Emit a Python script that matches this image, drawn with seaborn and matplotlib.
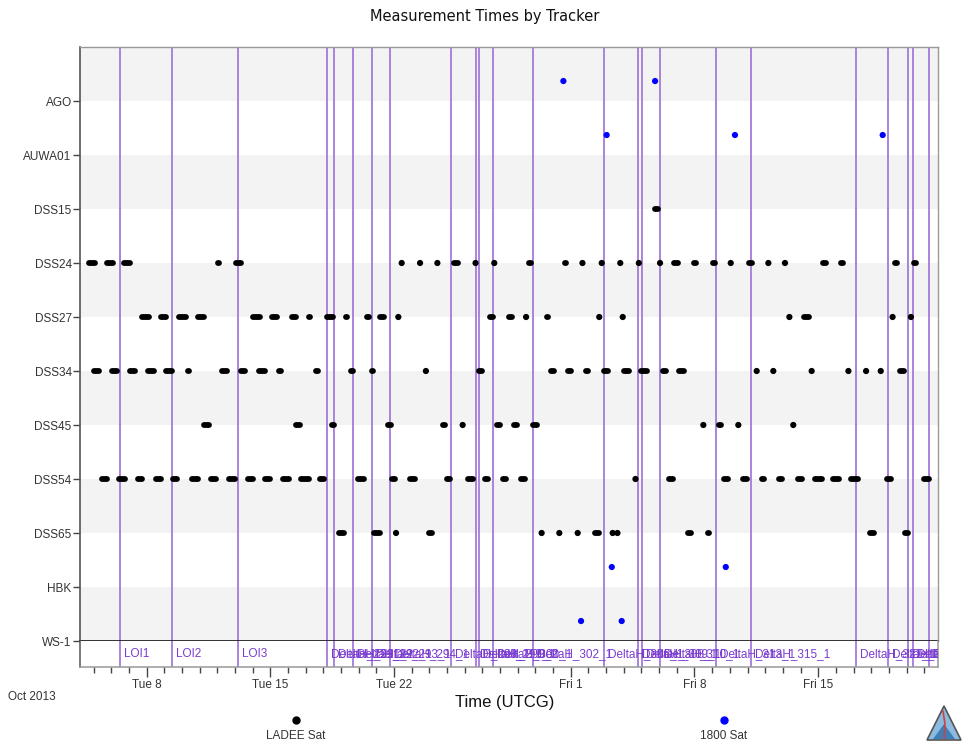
import numpy as np
import pandas as pd
import matplotlib
matplotlib.use("Agg")
import matplotlib.pyplot as plt
import matplotlib.dates as mdates
import matplotlib.ticker as mticker
import matplotlib.transforms as mtransforms
from matplotlib.patches import Polygon
import seaborn as sns

EPOCH = pd.Timestamp("2013-10-01 00:00")

# Tracker rows, bottom to top
trackers = ["WS-1", "HBK", "DSS65", "DSS54", "DSS45", "DSS34",
            "DSS27", "DSS24", "DSS15", "AUWA01", "AGO"]

# LADEE Sat measurement spans, days after 2013-10-01 00:00 UTCG (start, end)
ladee_dss15 = [(35.78, 35.95)]
ladee_dss24 = [(3.76, 4.05), (4.73, 5.07), (5.69, 6.08), (11.01, 11.12), (12.03, 12.31),
               (21.43, 21.43), (22.47, 22.47), (23.45, 23.45), (24.40, 24.59), (25.61, 25.61),
               (26.67, 26.67), (28.65, 28.74), (30.69, 30.72), (31.66, 31.66), (32.75, 32.75),
               (33.80, 33.80), (34.85, 34.85), (36.05, 36.05), (36.85, 37.08), (37.98, 38.08),
               (39.06, 39.15), (40.05, 40.05), (41.10, 41.28), (42.18, 42.18), (43.12, 43.12),
               (45.30, 45.43), (46.28, 46.38), (49.36, 49.45), (50.44, 50.53)]
ladee_dss27 = [(6.76, 7.14), (7.80, 8.08), (8.84, 9.21), (9.88, 10.25), (12.99, 13.42),
               (14.08, 14.36), (15.21, 15.44), (16.16, 16.23), (17.19, 17.52), (18.27, 18.32),
               (19.44, 19.59), (20.23, 20.44), (21.24, 21.24), (26.42, 26.57), (27.48, 27.65),
               (28.47, 28.47), (29.68, 29.72), (32.61, 32.61), (33.94, 33.94), (43.37, 43.37),
               (44.21, 44.49), (49.21, 49.21), (50.25, 50.25)]
ladee_dss34 = [(4.03, 4.31), (5.03, 5.31), (6.04, 6.33), (7.10, 7.39), (8.08, 8.46),
               (9.31, 9.41), (11.25, 11.53), (12.33, 12.55), (13.37, 13.68), (14.46, 14.59),
               (16.57, 16.67), (18.55, 18.65), (19.74, 19.78), (22.80, 22.80), (25.82, 26.00),
               (29.87, 30.06), (30.87, 31.00), (31.85, 31.99), (32.89, 33.08), (34.02, 34.31),
               (34.96, 35.34), (36.19, 36.38), (37.14, 37.38), (41.52, 41.52), (42.46, 42.46),
               (44.63, 44.63), (46.71, 46.71), (47.71, 47.71), (48.54, 48.54), (49.62, 49.83)]
ladee_dss45 = [(10.25, 10.54), (15.44, 15.69), (17.48, 17.61), (20.68, 20.82), (21.76, 21.80),
               (23.74, 23.89), (24.88, 24.88), (26.85, 27.01), (27.80, 27.98), (28.87, 29.08),
               (38.50, 38.50), (39.36, 39.49), (40.48, 40.48), (43.59, 43.59), (50.80, 50.84)]
ladee_dss54 = [(4.46, 4.74), (5.44, 5.76), (6.48, 6.76), (7.52, 7.80), (8.50, 8.74),
               (9.59, 9.92), (10.63, 10.91), (11.67, 11.99), (12.76, 13.04), (13.71, 13.99),
               (14.74, 15.06), (15.72, 16.20), (16.80, 17.05), (18.93, 19.27), (20.91, 21.04),
               (21.89, 22.20), (23.97, 24.15), (25.21, 25.44), (26.16, 26.29), (27.18, 27.36),
               (28.17, 28.40), (34.66, 34.66), (36.57, 36.76), (39.68, 39.87), (40.72, 40.96),
               (41.81, 41.95), (42.80, 42.98), (43.83, 44.11), (44.83, 45.19), (45.81, 46.19),
               (46.85, 47.23), (48.87, 49.11), (51.00, 51.28)]
ladee_dss65 = [(17.86, 18.14), (19.84, 20.18), (21.11, 21.11), (22.95, 23.12), (29.35, 29.35),
               (30.35, 30.35), (31.39, 31.39), (32.38, 32.61), (33.37, 33.37), (33.64, 33.64),
               (37.61, 37.79), (38.74, 38.83), (47.92, 48.13), (49.93, 50.10)]

# 1800 Sat single measurements, days after epoch
sat1800_ago = [30.58, 35.77]
sat1800_auwa01 = [33.03, 40.29, 48.65]
sat1800_hbk = [33.32, 39.77]
sat1800_ws1 = [31.58, 33.88]

# Maneuver events, days after epoch
event_days = [5.49, 8.43, 12.17, 17.20, 17.60, 18.68, 19.75, 20.77, 24.22, 25.64, 25.81,
              26.60, 28.86, 32.88, 34.80, 35.03, 36.05, 39.22, 41.20, 47.14, 48.95, 50.08,
              50.37, 51.27]
event_names = ["LOI1", "LOI2", "LOI3", "DeltaH_291_1", "DeltaH_291_2", "DeltaH_292_1",
               "DeltaH_293_1", "DeltaH_294_1", "DeltaH_298_1", "DeltaH_299_1", "DeltaH_299_2",
               "DeltaH_300_1", "DeltaH_302_1", "DeltaH_306_1", "DeltaH_308_1", "DeltaH_309_1",
               "DeltaH_310_1", "DeltaH_313_1", "DeltaH_315_1", "DeltaH_321_1", "DeltaH_322_1",
               "DeltaH_324_1", "DeltaH_324_2", "DeltaH_325_1"]

view_start, view_end = 3.226, 51.78

LADEE_OFFSET = 0.0
SAT1800_OFFSET = 0.37


def to_time(days):
    return EPOCH + pd.to_timedelta(np.asarray(days, dtype=float), unit="D")


ladee_passes = {"DSS15": ladee_dss15, "DSS24": ladee_dss24, "DSS27": ladee_dss27,
                "DSS34": ladee_dss34, "DSS45": ladee_dss45, "DSS54": ladee_dss54,
                "DSS65": ladee_dss65}
sat1800_points = {"AGO": sat1800_ago, "AUWA01": sat1800_auwa01,
                  "HBK": sat1800_hbk, "WS-1": sat1800_ws1}

seg_rows, pt_rows = [], []
seg_id = 0
for trk, passes in ladee_passes.items():
    lvl = trackers.index(trk) + LADEE_OFFSET
    for t0, t1 in passes:
        if t1 > t0:
            seg_rows.append((t0, lvl, seg_id))
            seg_rows.append((t1, lvl, seg_id))
            seg_id += 1
        else:
            pt_rows.append((t0, lvl, "LADEE Sat"))
for trk, times in sat1800_points.items():
    lvl = trackers.index(trk) + SAT1800_OFFSET
    for t in times:
        pt_rows.append((t, lvl, "1800 Sat"))

seg_df = pd.DataFrame(seg_rows, columns=["day", "level", "seg"])
seg_df["time"] = to_time(seg_df["day"])
pt_df = pd.DataFrame(pt_rows, columns=["day", "level", "object"])
pt_df["time"] = to_time(pt_df["day"])

sns.set_theme(style="white")
plt.rcParams["font.family"] = ["Liberation Sans", "DejaVu Sans"]

W, H = 965, 745
fig = plt.figure(figsize=(W / 100, H / 100), dpi=100)


def frac(x0, y0, x1, y1):
    return [x0 / W, 1 - y1 / H, (x1 - x0) / W, (y1 - y0) / H]


ax = fig.add_axes(frac(80, 47, 938, 641))
strip = fig.add_axes(frac(80, 641, 938, 667), sharex=ax)

line_color = "#a57bdc"
label_color = "#7a3ccf"

# alternating row bands
for k in range(0, len(trackers), 2):
    ax.axhspan(k, k + 1, color="#f3f3f3", lw=0, zorder=0)

for d in event_days:
    t = to_time([d])[0]
    ax.axvline(t, color=line_color, lw=1.3, zorder=1)
    strip.axvline(t, color=line_color, lw=1.3, zorder=1)

sns.lineplot(data=seg_df, x="time", y="level", units="seg", estimator=None, sort=False,
             color="black", lw=4.2, solid_capstyle="round", legend=False, ax=ax, zorder=3)
sns.scatterplot(data=pt_df, x="time", y="level", hue="object",
                palette={"LADEE Sat": "black", "1800 Sat": "#0000ff"},
                s=20, linewidth=0, legend=False, ax=ax, zorder=4)

ax.set_xlim(to_time([view_start])[0], to_time([view_end])[0])
ax.set_ylim(0, len(trackers))
ax.set_yticks(range(len(trackers)))
ax.set_yticklabels(trackers)
ax.set_xlabel("")
ax.set_ylabel("")
ax.tick_params(axis="x", which="both", bottom=False, labelbottom=False)
ax.tick_params(axis="y", left=True, length=5, width=1, color="#444",
               labelsize=8.5, labelcolor="#333", pad=1)
for side, col, lw in [("left", "#555", 1.2), ("top", "#999", 1.0),
                      ("right", "#999", 1.0), ("bottom", "#222", 1.3)]:
    ax.spines[side].set_color(col)
    ax.spines[side].set_linewidth(lw)

strip.set_ylim(0, 1)
label_tf = mtransforms.offset_copy(strip.transData, fig=fig, x=3, y=0, units="points")
for d, name in zip(event_days, event_names):
    txt = strip.text(mdates.date2num(to_time([d])[0]), 0.5, name, transform=label_tf,
                     ha="left", va="center", fontsize=8.5, color=label_color)
    txt.set_clip_box(strip.bbox)
    txt.set_clip_on(True)

strip.set_yticks([])
strip.set_facecolor("white")
strip.spines["top"].set_visible(False)
for side, col in [("left", "#555"), ("right", "#999"), ("bottom", "#999")]:
    strip.spines[side].set_color(col)
    strip.spines[side].set_linewidth(1.1)

strip.xaxis.set_major_locator(mdates.DayLocator(bymonthday=[1, 8, 15, 22]))
strip.xaxis.set_minor_locator(mdates.DayLocator())


def day_label(v, pos):
    dt = mdates.num2date(v)
    return f"{dt:%a} {dt.day}"


strip.xaxis.set_major_formatter(mticker.FuncFormatter(day_label))
strip.tick_params(axis="x", which="major", bottom=True, length=7, width=1, color="#444",
                  labelsize=8.5, labelcolor="#333", pad=2, direction="out")
strip.tick_params(axis="x", which="minor", bottom=True, length=4, width=1, color="#444",
                  direction="out")
strip.set_xlabel("")

fig.text(485 / W, 1 - 17 / H, "Measurement Times by Tracker", ha="center", va="center",
         fontsize=10.5, color="#111", family=["DejaVu Sans"])
fig.text(505 / W, 1 - 703 / H, "Time (UTCG)", ha="center", va="center",
         fontsize=12, color="#111")
fig.text(8 / W, 1 - 697 / H, "Oct 2013", ha="left", va="center", fontsize=8.5, color="#333")

# legend and emblem in pixel space
over = fig.add_axes([0, 0, 1, 1], zorder=-1)
over.set_xlim(0, W)
over.set_ylim(H, 0)
over.axis("off")
for x, col, name in [(296, "black", "LADEE Sat"), (724, "#0000ff", "1800 Sat")]:
    over.plot([x], [720], marker="o", ms=5, color=col, mec=col)
    over.text(x, 736, name, ha="center", va="center", fontsize=8.5, color="#333")

over.add_patch(Polygon([(927, 740), (944, 706), (961, 740)], closed=True,
                       facecolor="#8dbbe0", edgecolor="#555", lw=1.2))
over.add_patch(Polygon([(933, 739), (944, 724), (955, 739)], closed=True,
                       facecolor="#3f7fb8", edgecolor="none"))
over.plot([943, 945, 944], [711, 724, 739], color="#d04040", lw=1.2)

fig.savefig("out.png", dpi=100, facecolor="white")
